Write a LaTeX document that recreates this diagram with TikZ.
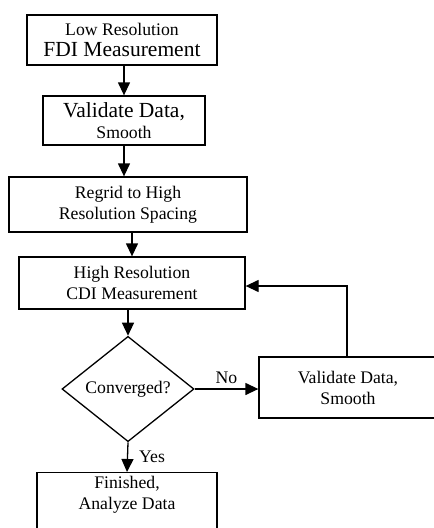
\documentclass[tikz,border=0pt]{standalone}
\usepackage{fontspec}
\setmainfont{Liberation Serif}
\usetikzlibrary{arrows.meta,shapes.geometric}
\newcommand\fsn{\fontsize{17.7}{21}\selectfont}
\newcommand\fsl{\fontsize{21.5}{22}\selectfont}
\tikzset{
  stepbox/.style={draw, line width=1.3pt, inner sep=0pt, align=center, font=\fsn},
  decide/.style={draw, diamond, line width=1.3pt, inner sep=1pt, align=center, font=\fsn, minimum width=132pt, minimum height=103pt},
  arr/.style={line width=1.3pt, -{Triangle[length=13pt,width=12pt]}},
  lbl/.style={inner sep=0pt, font=\fsn}
}
\begin{document}
\begin{tikzpicture}[x=1pt,y=-1pt]
\useasboundingbox (0,0) rectangle (434,528);
\clip (0,0) rectangle (434,528);
\node[stepbox, minimum width=190pt, minimum height=50pt] (b1) at (122,40) {Low Resolution\\{\fsl FDI Measurement}};
\node[stepbox, minimum width=162pt, minimum height=49pt] (b2) at (124,120.5) {{\fsl Validate Data,}\\Smooth};
\node[stepbox, minimum width=238pt, minimum height=55pt] (b3) at (128,204.5) {Regrid to High\\Resolution Spacing};
\node[stepbox, minimum width=226pt, minimum height=52pt] (b4) at (132,283) {High Resolution\\CDI Measurement};
\node[decide] (dia) at (128,389) {Converged?};
\node[stepbox, minimum width=178pt, minimum height=61pt] (b5) at (348,387.5) {Validate Data,\\Smooth};
\node[stepbox, minimum width=180pt, minimum height=90pt, anchor=north] (finbox) at (127,472) {};
\node[lbl, align=center] (fin) at (127,494.5) {Finished,\\Analyze Data};
\coordinate (corner) at (347,286);
\draw[arr] (b1.south -| b2) -- (b2.north);
\draw[arr] (b2.south) -- (b2.south |- b3.north);
\draw[arr] (b3.south -| b4) -- (b4.north);
\draw[arr] (b4.south -| dia) -- (dia.north);
\draw[arr] (dia.east) -- (b5.west |- dia.east) node[lbl, midway, above=5pt] (no) {No};
\draw[arr] (dia.south) -- (finbox.north) node[lbl, midway, right=11pt] (yes) {Yes};
\draw[arr] (corner |- b5.north) -- (corner) -- (b4.east |- corner);
\end{tikzpicture}
\end{document}
